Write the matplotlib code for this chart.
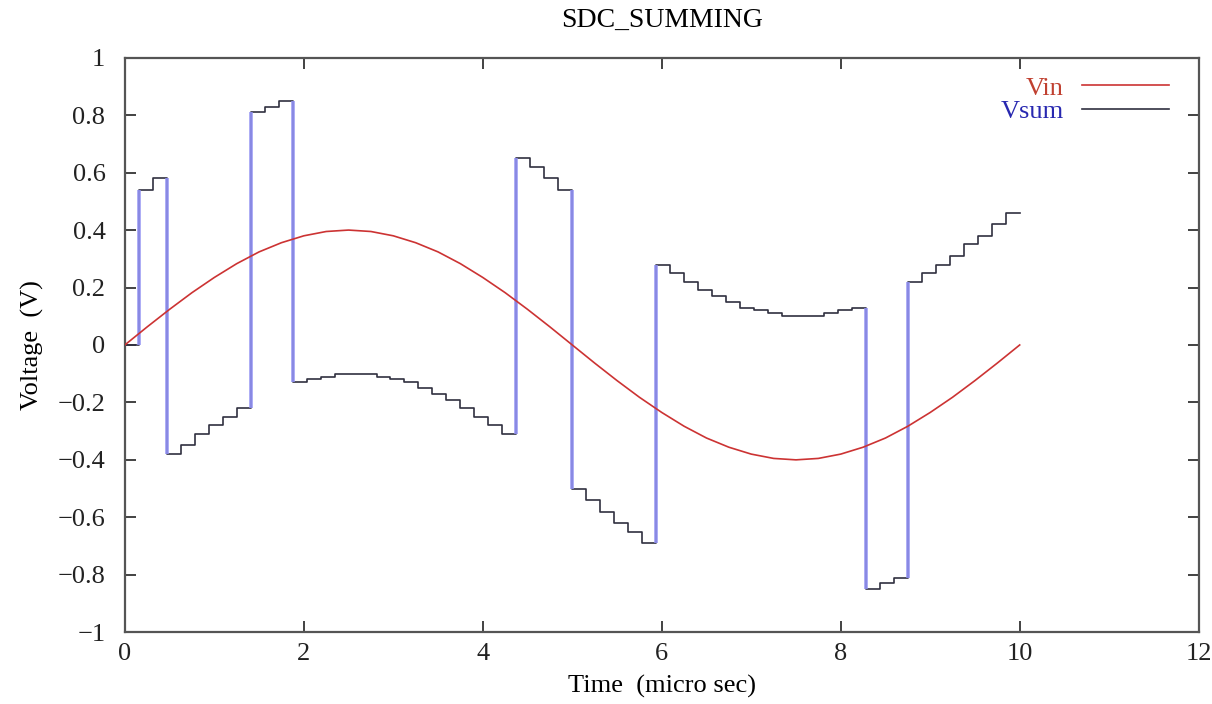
import numpy as np
import matplotlib
matplotlib.use("Agg")
import matplotlib.pyplot as plt

# ---- data ----
title = "SDC_SUMMING"
x_label = "Time  (micro sec)"
y_label = "Voltage  (V)"

# Vin: sine-like input, sampled every 0.25 us from 0 to 10 us
vin_t = [i * 0.25 for i in range(41)]
vin_v = [0.000, 0.063, 0.124, 0.182, 0.235, 0.283, 0.324, 0.356, 0.380, 0.395,
         0.400, 0.395, 0.380, 0.356, 0.324, 0.283, 0.235, 0.182, 0.124, 0.063,
         0.000, -0.063, -0.124, -0.182, -0.235, -0.283, -0.324, -0.356, -0.380, -0.395,
         -0.400, -0.395, -0.380, -0.356, -0.324, -0.283, -0.235, -0.182, -0.124, -0.063,
         0.000]

# Vsum: sample-and-hold levels, one per clock period (0.15625 us)
sample_period_us = 0.15625
vsum_levels = [0.00, 0.54, 0.58, -0.38, -0.35, -0.31, -0.28, -0.25, -0.22, 0.81,
               0.83, 0.85, -0.13, -0.12, -0.11, -0.10, -0.10, -0.10, -0.11, -0.12,
               -0.13, -0.15, -0.17, -0.19, -0.22, -0.25, -0.28, -0.31, 0.65, 0.62,
               0.58, 0.54, -0.50, -0.54, -0.58, -0.62, -0.65, -0.69, 0.28, 0.25,
               0.22, 0.19, 0.17, 0.15, 0.13, 0.12, 0.11, 0.10, 0.10, 0.10,
               0.11, 0.12, 0.13, -0.85, -0.83, -0.81, 0.22, 0.25, 0.28, 0.31,
               0.35, 0.38, 0.42, 0.46]

x_ticks = [0, 2, 4, 6, 8, 10, 12]
y_ticks = [-1, -0.8, -0.6, -0.4, -0.2, 0, 0.2, 0.4, 0.6, 0.8, 1]

# ---- figure ----
plt.rcParams['font.family'] = ['Liberation Serif', 'DejaVu Serif']
fig = plt.figure(figsize=(12.12, 7.04), dpi=100)
ax = fig.add_axes([0.103, 0.102, 0.886, 0.816])

n = len(vsum_levels)
edges = np.arange(n + 1) * sample_period_us
levels = np.array(vsum_levels + [vsum_levels[-1]])

ax.plot(vin_t, vin_v, color='#cc3333', lw=1.2, label='Vin', zorder=4)
ax.step(edges, levels, where='post', color='#303040', lw=1.2, label='Vsum', zorder=2)

# large jumps are rendered bluish in the reference
lv = np.array(vsum_levels)
jumps = np.where(np.abs(np.diff(lv)) > 0.5)[0] + 1
ax.vlines(edges[jumps], lv[jumps - 1], lv[jumps], color='#9090f2', lw=2.6,
          alpha=0.9, zorder=3)

ax.set_xlim(0, 12)
ax.set_ylim(-1, 1)
ax.set_xticks(x_ticks)
ax.set_xticklabels([str(v) for v in x_ticks])
ax.set_yticks(y_ticks)
ax.set_yticklabels([('\u2212' if v < 0 else '') + ('%g' % abs(v)) for v in y_ticks])
ax.tick_params(direction='in', length=8, width=1.2, top=True, right=True,
               labelsize=19, pad=8, colors='#222222')
ax.tick_params(axis='y', pad=14)
for s in ax.spines.values():
    s.set_linewidth(1.6)
    s.set_color('#555555')

ax.set_title(title, fontsize=20, pad=22)
ax.set_xlabel(x_label, fontsize=19, labelpad=7)
ax.set_ylabel(y_label, fontsize=19, labelpad=10)

leg = ax.legend(loc='upper right', frameon=False, markerfirst=False, fontsize=19,
                handlelength=3.3, handletextpad=0.7, borderaxespad=0.3,
                labelspacing=0.0, labelcolor=['#c04030', '#2828b0'],
                bbox_to_anchor=(0.99, 1.0))

fig.savefig('out.png', dpi=100)
